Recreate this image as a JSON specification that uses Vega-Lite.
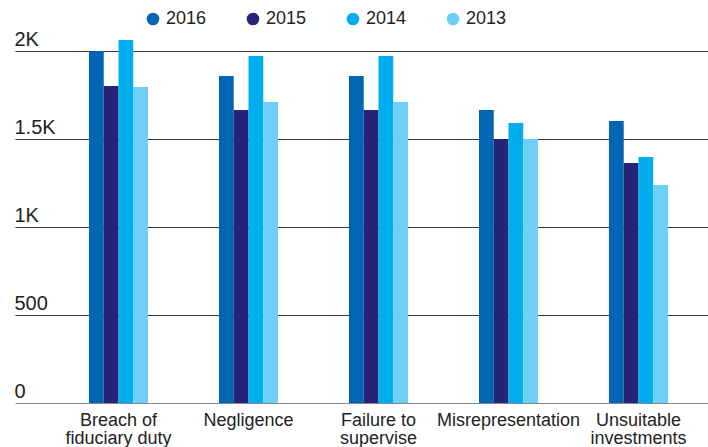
{
  "$schema": "https://vega.github.io/schema/vega-lite/v6.json",
  "autosize": {"type": "none"},
  "width": 693,
  "height": 352,
  "padding": {"left": 15, "top": 51, "right": 0, "bottom": 44},
  "background": "white",
  "config": {
    "view": {"stroke": null},
    "font": "Liberation Sans"
  },
  "data": {
    "values": [
      {"category": "Breach of fiduciary duty", "year": "2016", "value": 2000},
      {"category": "Breach of fiduciary duty", "year": "2015", "value": 1801},
      {"category": "Breach of fiduciary duty", "year": "2014", "value": 2063},
      {"category": "Breach of fiduciary duty", "year": "2013", "value": 1795},
      {"category": "Negligence", "year": "2016", "value": 1858},
      {"category": "Negligence", "year": "2015", "value": 1665},
      {"category": "Negligence", "year": "2014", "value": 1972},
      {"category": "Negligence", "year": "2013", "value": 1710},
      {"category": "Failure to supervise", "year": "2016", "value": 1858},
      {"category": "Failure to supervise", "year": "2015", "value": 1665},
      {"category": "Failure to supervise", "year": "2014", "value": 1972},
      {"category": "Failure to supervise", "year": "2013", "value": 1710},
      {"category": "Misrepresentation", "year": "2016", "value": 1665},
      {"category": "Misrepresentation", "year": "2015", "value": 1500},
      {"category": "Misrepresentation", "year": "2014", "value": 1591},
      {"category": "Misrepresentation", "year": "2013", "value": 1500},
      {"category": "Unsuitable investments", "year": "2016", "value": 1602},
      {"category": "Unsuitable investments", "year": "2015", "value": 1364},
      {"category": "Unsuitable investments", "year": "2014", "value": 1398},
      {"category": "Unsuitable investments", "year": "2013", "value": 1239}
    ]
  },
  "mark": {"type": "bar", "clip": false},
  "encoding": {
    "x": {
      "field": "category",
      "type": "nominal",
      "sort": null,
      "scale": {"paddingInner": 0.546, "paddingOuter": 0.4385, "align": 0.649},
      "axis": {
        "title": null,
        "domain": false,
        "ticks": false,
        "labelAngle": 0,
        "labelFontSize": 18,
        "labelColor": "#222",
        "labelPadding": 8,
        "labelLineHeight": 18,
        "labelLimit": 300,
        "labelExpr": "datum.label == 'Breach of fiduciary duty' ? ['Breach of', 'fiduciary duty'] : datum.label == 'Failure to supervise' ? ['Failure to', 'supervise'] : datum.label == 'Unsuitable investments' ? ['Unsuitable', 'investments'] : datum.label"
      }
    },
    "xOffset": {
      "field": "year",
      "type": "nominal",
      "sort": ["2016", "2015", "2014", "2013"],
      "scale": {"paddingInner": 0, "paddingOuter": 0}
    },
    "y": {
      "field": "value",
      "type": "quantitative",
      "scale": {"domain": [0, 2000], "nice": false},
      "axis": {
        "title": null,
        "domain": false,
        "ticks": false,
        "tickSize": 0,
        "values": [0, 500, 1000, 1500, 2000],
        "labelExpr": "datum.value >= 1000 ? format(datum.value / 1000, '') + 'K' : datum.label",
        "labelAlign": "left",
        "labelBaseline": "alphabetic",
        "labelPadding": 1,
        "labelOffset": -6,
        "labelFontSize": 20,
        "labelColor": "#222",
        "grid": true,
        "gridColor": {"condition": {"test": "datum.value === 0", "value": "#888888"}, "value": "#333333"},
        "gridWidth": 1.2,
        "gridOpacity": 1
      }
    },
    "color": {
      "field": "year",
      "type": "nominal",
      "sort": ["2016", "2015", "2014", "2013"],
      "scale": {
        "domain": ["2016", "2015", "2014", "2013"],
        "range": ["#0066B3", "#262478", "#00AEEF", "#6DCFF6"]
      },
      "legend": {
        "title": null,
        "orient": "none",
        "direction": "horizontal",
        "legendX": 129,
        "legendY": -41,
        "symbolType": "circle",
        "symbolSize": 160,
        "symbolStrokeWidth": 0,
        "symbolOpacity": 1,
        "labelFontSize": 18,
        "labelColor": "#222",
        "labelOffset": 4,
        "columnPadding": 37,
        "padding": 0
      }
    }
  }
}
